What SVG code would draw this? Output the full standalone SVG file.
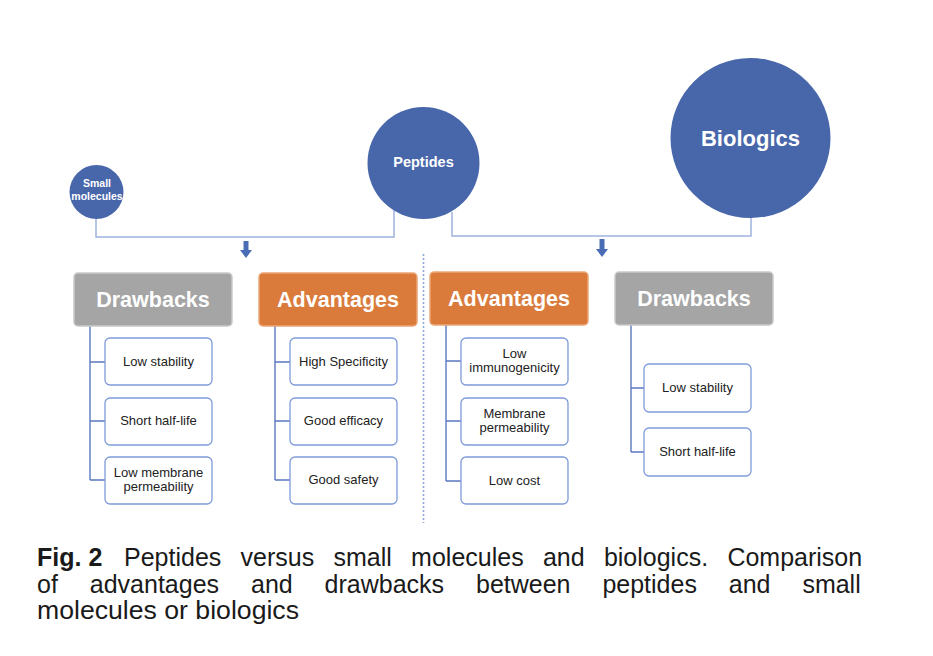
<svg xmlns="http://www.w3.org/2000/svg" width="933" height="656" viewBox="0 0 933 656">
<style>
.circ{fill:#4866aa;}
.ct{fill:#fff;font-family:"Liberation Sans",Arial,sans-serif;font-weight:bold;text-anchor:middle;}
.conn{fill:none;stroke:#9fb2de;stroke-width:1.5;}
.arrow{fill:#4a6cb5;}
.trunk{fill:none;stroke:#5a78c0;stroke-width:1.4;}
.hdr-g{fill:#a5a5a5;stroke:#c9c9c9;stroke-width:1.5;}
.hdr-o{fill:#da7b3c;stroke:#eca776;stroke-width:1.5;}
.ht{fill:#fff;font-family:"Liberation Sans",Arial,sans-serif;font-weight:bold;font-size:21.5px;text-anchor:middle;}
.box{fill:#fff;stroke:#7f9bd9;stroke-width:1.3;}
.bt{fill:#222;font-family:"Liberation Sans",Arial,sans-serif;font-size:13px;text-anchor:middle;}
.cap{fill:#1a1a1a;font-family:"Liberation Sans",Arial,sans-serif;font-size:25px;}
</style>
<rect width="933" height="656" fill="#fff"/>

<g id="connectors">
<path class="conn" d="M96,219 V237 H394 V210"/>
<path class="conn" d="M452,212 V236 H751 V218"/>
<polygon class="arrow" points="243.5,241 248.5,241 248.5,250 252,250 246,258 240,250 243.5,250"/>
<polygon class="arrow" points="599.5,239 604.5,239 604.5,249 608,249 602,257 596,249 599.5,249"/>
<line x1="423.5" y1="254" x2="423.5" y2="523" stroke="#8ea8dc" stroke-width="1.6" stroke-dasharray="2,2"/>
<path class="trunk" d="M90,326 V480 M90,362 H105 M90,421 H105 M90,480 H105"/>
<path class="trunk" d="M275,326 V480 M275,362 H290 M275,421 H290 M275,480 H290"/>
<path class="trunk" d="M446,325 V481 M446,361 H461 M446,421 H461 M446,481 H461"/>
<path class="trunk" d="M631,325 V452 M631,388 H644 M631,452 H644"/>
</g>

<g id="small-molecules">
<circle class="circ" cx="96.5" cy="192" r="27"/>
<text class="ct" font-size="10.5" x="97" y="187">Small</text>
<text class="ct" font-size="10.5" x="97" y="200">molecules</text>
</g>
<g id="peptides">
<circle class="circ" cx="423.5" cy="163" r="56"/>
<text class="ct" font-size="14.5" x="423.5" y="167">Peptides</text>
</g>
<g id="biologics">
<circle class="circ" cx="750.5" cy="138" r="80"/>
<text class="ct" font-size="22" x="750.5" y="146">Biologics</text>
</g>

<g id="sm-drawbacks">
<rect class="hdr-g" x="74" y="273" width="158" height="53" rx="4"/>
<text class="ht" x="153" y="307">Drawbacks</text>
</g>
<g id="sm-d1"><rect class="box" x="105" y="338" width="107" height="47" rx="5"/><text class="bt" x="158.5" y="366">Low stability</text></g>
<g id="sm-d2"><rect class="box" x="105" y="398" width="107" height="47" rx="5"/><text class="bt" x="158.5" y="425">Short half-life</text></g>
<g id="sm-d3"><rect class="box" x="105" y="457" width="107" height="47" rx="5"/><text class="bt" x="158.5" y="477">Low membrane</text><text class="bt" x="158.5" y="491">permeability</text></g>

<g id="pep-advantages-left">
<rect class="hdr-o" x="259" y="273" width="158" height="53" rx="4"/>
<text class="ht" x="338" y="307">Advantages</text>
</g>
<g id="pa1"><rect class="box" x="290" y="338" width="107" height="47" rx="5"/><text class="bt" x="343.5" y="366">High Specificity</text></g>
<g id="pa2"><rect class="box" x="290" y="398" width="107" height="47" rx="5"/><text class="bt" x="343.5" y="425">Good efficacy</text></g>
<g id="pa3"><rect class="box" x="290" y="457" width="107" height="47" rx="5"/><text class="bt" x="343.5" y="484">Good safety</text></g>

<g id="pep-advantages-right">
<rect class="hdr-o" x="430" y="272" width="158" height="53" rx="4"/>
<text class="ht" x="509" y="306">Advantages</text>
</g>
<g id="pb1"><rect class="box" x="461" y="338" width="107" height="47" rx="5"/><text class="bt" x="514.5" y="358">Low</text><text class="bt" x="514.5" y="372">immunogenicity</text></g>
<g id="pb2"><rect class="box" x="461" y="398" width="107" height="47" rx="5"/><text class="bt" x="514.5" y="418">Membrane</text><text class="bt" x="514.5" y="432">permeability</text></g>
<g id="pb3"><rect class="box" x="461" y="457" width="107" height="47" rx="5"/><text class="bt" x="514.5" y="485">Low cost</text></g>

<g id="bio-drawbacks">
<rect class="hdr-g" x="615" y="272" width="158" height="53" rx="4"/>
<text class="ht" x="694" y="306">Drawbacks</text>
</g>
<g id="bd1"><rect class="box" x="644" y="364" width="107" height="48" rx="5"/><text class="bt" x="697.5" y="392">Low stability</text></g>
<g id="bd2"><rect class="box" x="644" y="428" width="107" height="48" rx="5"/><text class="bt" x="697.5" y="456">Short half-life</text></g>

<g id="caption">
<text class="cap" x="37" y="566" font-weight="bold">Fig. 2</text>
<text class="cap" y="566"><tspan x="124">Peptides</tspan><tspan x="240.6">versus</tspan><tspan x="333.5">small</tspan><tspan x="411.1">molecules</tspan><tspan x="542.9">and</tspan><tspan x="603.9">biologics.</tspan><tspan x="727.4">Comparison</tspan></text>
<text class="cap" y="593"><tspan x="37">of</tspan><tspan x="89.8">advantages</tspan><tspan x="251">and</tspan><tspan x="324.6">drawbacks</tspan><tspan x="476">between</tspan><tspan x="602.4">peptides</tspan><tspan x="728.8">and</tspan><tspan x="802.4">small</tspan></text>
<text class="cap" x="37" y="619" textLength="262" lengthAdjust="spacingAndGlyphs">molecules or biologics</text>
</g>
</svg>
